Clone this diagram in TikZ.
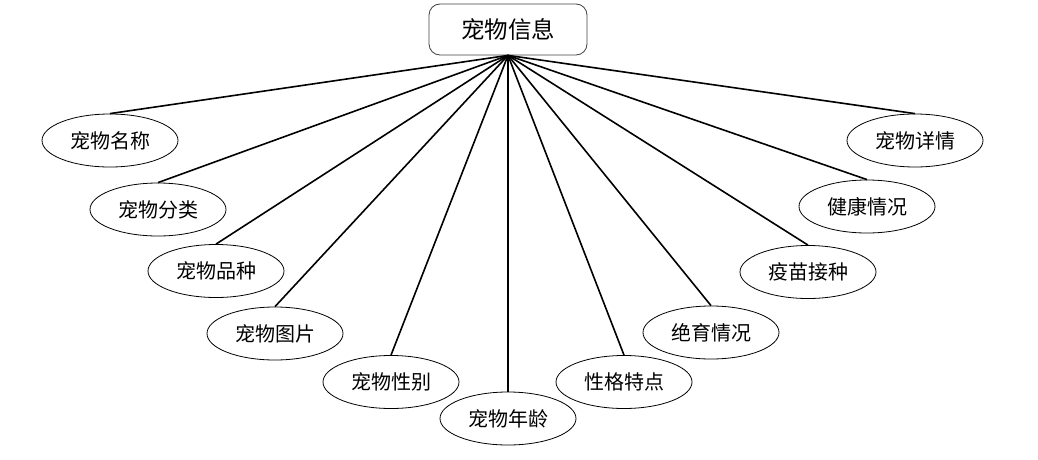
\documentclass[tikz,border=0pt]{standalone}
\usepackage{fontspec}
\newfontfamily\cjk{Noto Sans CJK SC}
\usetikzlibrary{shapes.geometric}
\begin{document}
\begin{tikzpicture}[x=1pt,y=-1pt,
  attr/.style={ellipse,draw=black,line width=0.8pt,minimum width=136pt,minimum height=53pt,inner sep=0pt,font=\cjk\fontsize{20}{22}\selectfont},
  ent/.style={rectangle,rounded corners=11pt,draw=black!75,line width=0.8pt,minimum width=158pt,minimum height=51pt,inner sep=0pt,font=\cjk\fontsize{23.5}{26}\selectfont},
  link/.style={line width=1.6pt,black}]
\useasboundingbox (0,0) rectangle (1038,460);
\node[ent] (top) at (508,29.5) {宠物信息};
\node[attr] (a1) at (110,140.5) {宠物名称};
\node[attr] (a2) at (158,209.5) {宠物分类};
\node[attr] (a3) at (216,271) {宠物品种};
\node[attr] (a4) at (275,333.5) {宠物图片};
\node[attr] (a5) at (391,382) {宠物性别};
\node[attr] (a6) at (508,418.5) {宠物年龄};
\node[attr] (a7) at (624,382) {性格特点};
\node[attr] (a8) at (711,332.5) {绝育情况};
\node[attr] (a9) at (808,272) {疫苗接种};
\node[attr] (a10) at (867,206.5) {健康情况};
\node[attr] (a11) at (915,140.5) {宠物详情};
\foreach \n in {a1,a2,a3,a4,a5,a6,a7,a8,a9,a10,a11}
  \draw[link] (top.south) -- (\n.north);
\end{tikzpicture}
\end{document}
